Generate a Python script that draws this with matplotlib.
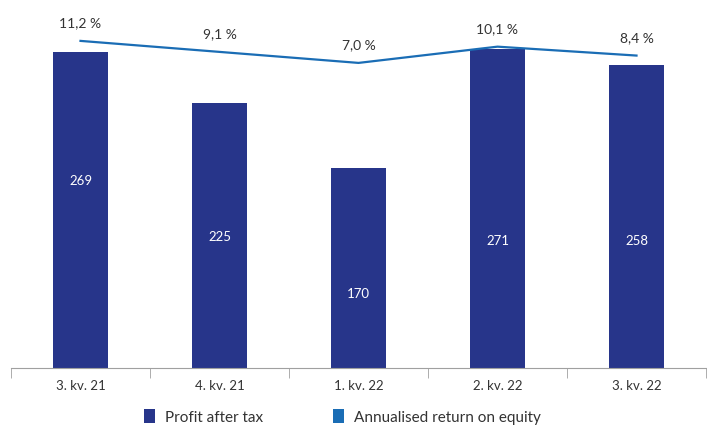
import matplotlib
matplotlib.use("Agg")
import matplotlib.pyplot as plt
from matplotlib.patches import Patch
import numpy as np

quarters = ["3. kv. 21", "4. kv. 21", "1. kv. 22", "2. kv. 22", "3. kv. 22"]
profit = [269, 225, 170, 271, 258]
roe = [11.2, 9.1, 7.0, 10.1, 8.4]

# vertical spot for the white number inside each bar (data units)
label_pos = [159, 111, 63, 108, 108]

bar_color = "#27358a"
line_color = "#1a6db5"
text_color = "#333333"

plt.rcParams["font.family"] = ["Lato", "DejaVu Sans"]

fig = plt.figure(figsize=(7.07, 4.26), dpi=100)
ax = fig.add_axes([11 / 707, 58 / 426, 695 / 707, 368 / 426])
x = np.arange(len(quarters))

ax.bar(x, profit, width=0.4, color=bar_color, zorder=2)
for xi, v, yp in zip(x, profit, label_pos):
    ax.text(xi, yp, str(v), color="white", ha="center", va="center", fontsize=9.5)

ax.set_xlim(-0.5, len(quarters) - 0.5)
ax.set_ylim(0, 313)
ax.set_yticks([])
for s in ["top", "left", "right"]:
    ax.spines[s].set_visible(False)
ax.spines["bottom"].set_color("#a0a0a0")
ax.set_xticks(x)
ax.set_xticklabels(quarters, fontsize=9.5, color=text_color)
ax.tick_params(axis="x", which="major", length=0, pad=9)
ax.set_xticks(np.arange(-0.5, len(quarters)), minor=True)
ax.tick_params(axis="x", which="minor", length=7, color="#a0a0a0")

ax2 = ax.twinx()
ax2.plot(x, roe, color=line_color, lw=1.6, zorder=3)
ax2.set_ylim(-51.2, 19.0)
ax2.set_yticks([])
for s in ax2.spines.values():
    s.set_visible(False)
for xi, v in zip(x, roe):
    ax2.annotate(f"{v:.1f} %".replace(".", ","), (xi, v), xytext=(0, 12.5),
                 textcoords="offset points", ha="center", va="center",
                 fontsize=10, color=text_color)

handles = [Patch(facecolor=bar_color, label="Profit after tax"),
           Patch(facecolor=line_color, label="Annualised return on equity")]
fig.legend(handles=handles, loc="center", bbox_to_anchor=(0.4845, 9 / 426),
           ncol=2, frameon=False, fontsize=11, handlelength=0.7, handleheight=1.0,
           handletextpad=0.65, columnspacing=4.6, labelcolor=text_color)

fig.savefig("out.png", dpi=100)
